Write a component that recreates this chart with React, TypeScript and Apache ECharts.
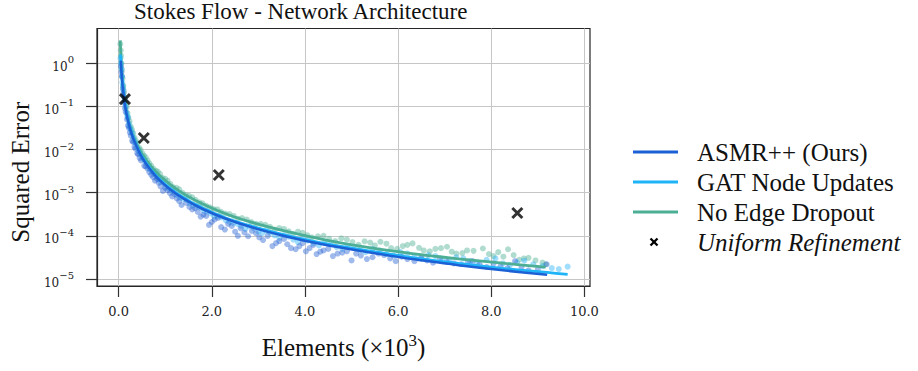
import React, { useEffect, useRef } from "react";
import * as echarts from "echarts";

// ---- text ----
const TITLE = "Stokes Flow - Network Architecture";
const Y_NAME = "Squared Error";
const MODELS = ["ASMR++ (Ours)", "GAT Node Updates", "No Edge Dropout"];
const BASELINE = "Uniform Refinement";
const COLORS = ["#1b60d4", "#1fb4f8", "#4caf95"];
const DOT_COLORS = ["rgba(38,98,212,0.55)", "rgba(40,178,248,0.55)", "rgba(76,176,148,0.55)"];

// ---- axes (x in thousands of elements) ----
const X_MIN = -0.465;
const X_MAX = 10.12;
const Y_MIN = 6.9e-6;
const Y_MAX = 6.4;
const X_TICKS = [0, 2, 4, 6, 8, 10];
const Y_TICKS = [1e-5, 1e-4, 1e-3, 1e-2, 1e-1, 1];

// ---- fitted error curves ----
const asmrCurveX = [0.045, 0.07, 0.1, 0.14, 0.2, 0.28, 0.38, 0.5, 0.65, 0.85, 1.1, 1.4, 1.8, 2.3, 2.9, 3.6, 4.4, 5.3, 6.3, 7.3, 8.3, 9.2];
const asmrCurveY = [1.15, 0.45, 0.21, 0.1, 0.047, 0.023, 0.0122, 0.0066, 0.0038, 0.0021, 0.00121, 0.00072, 0.00042, 0.00025, 0.000153, 9.7e-5, 6.3e-5, 4.3e-5, 2.9e-5, 2.1e-5, 1.57e-5, 1.26e-5];

const gatCurveX = [0.04, 0.06, 0.09, 0.13, 0.19, 0.27, 0.37, 0.5, 0.65, 0.85, 1.1, 1.4, 1.8, 2.3, 2.9, 3.6, 4.4, 5.3, 6.3, 7.3, 8.3, 9.2, 9.64];
const gatCurveY = [1.6, 0.7, 0.3, 0.125, 0.055, 0.026, 0.0135, 0.0069, 0.004, 0.0022, 0.00127, 0.00076, 0.00044, 0.00026, 0.000162, 0.000103, 6.7e-5, 4.6e-5, 3.15e-5, 2.3e-5, 1.75e-5, 1.42e-5, 1.28e-5];

const noDropCurveX = [0.034, 0.05, 0.075, 0.11, 0.16, 0.22, 0.3, 0.4, 0.52, 0.68, 0.88, 1.15, 1.45, 1.85, 2.35, 2.95, 3.65, 4.45, 5.35, 6.3, 7.3, 8.3, 9.17];
const noDropCurveY = [3.4, 1.3, 0.5, 0.2, 0.085, 0.042, 0.022, 0.0125, 0.0074, 0.0043, 0.0025, 0.00143, 0.00087, 0.00052, 0.00031, 0.000193, 0.000124, 8.0e-5, 5.4e-5, 3.9e-5, 2.95e-5, 2.3e-5, 1.88e-5];

// ---- individual runs: [elements (×10^3), squared error] ----
const asmrRuns = [
  [0.05, 0.85], [0.06, 0.62], [0.07, 0.5], [0.09, 0.26], [0.1, 0.2], [0.12, 0.12], [0.135, 0.09], [0.15, 0.075],
  [0.18, 0.05], [0.2, 0.036], [0.22, 0.032], [0.24, 0.025], [0.26, 0.021], [0.29, 0.016], [0.31, 0.015], [0.34, 0.0115],
  [0.36, 0.0105], [0.4, 0.0082], [0.42, 0.0078], [0.45, 0.0064], [0.48, 0.0056], [0.55, 0.0042], [0.58, 0.0041],
  [0.62, 0.0036], [0.66, 0.003], [0.7, 0.0026], [0.74, 0.0023], [0.78, 0.0019], [0.82, 0.0021], [0.86, 0.0017],
  [0.9, 0.0014], [0.95, 0.0011], [1.0, 0.0013], [1.05, 0.00115], [1.1, 0.00098], [1.15, 0.00082], [1.2, 0.00093],
  [1.25, 0.00074], [1.3, 0.00064], [1.35, 0.00052], [1.45, 0.00058], [1.52, 0.00047], [1.58, 0.00041], [1.64, 0.00044],
  [1.7, 0.00036], [1.76, 0.00028], [1.82, 0.00031], [1.88, 0.00029], [1.94, 0.00018], [2.0, 0.00021], [2.06, 0.00024],
  [2.13, 0.00026], [2.2, 0.00016], [2.28, 0.00014], [2.35, 0.00019], [2.43, 0.00017], [2.5, 0.000125], [2.56, 0.0001],
  [2.62, 0.00015], [2.7, 0.00012], [2.78, 9.8e-5], [2.86, 0.00013], [2.95, 0.000115], [3.02, 9.2e-5], [3.1, 8.0e-5],
  [3.2, 0.0001], [3.3, 5.8e-5], [3.38, 6.8e-5], [3.45, 7.6e-5], [3.55, 8.5e-5], [3.62, 6.4e-5], [3.7, 5.2e-5],
  [3.8, 4.9e-5], [3.88, 5.8e-5], [3.95, 6.8e-5], [4.02, 4.4e-5], [4.1, 5.2e-5], [4.18, 6.2e-5], [4.25, 3.8e-5],
  [4.33, 4.3e-5], [4.4, 4.6e-5], [4.5, 5.0e-5], [4.6, 3.4e-5], [4.7, 3.9e-5], [4.8, 4.1e-5], [4.9, 4.4e-5],
  [5.0, 2.7e-5], [5.1, 3.9e-5], [5.2, 3.5e-5], [5.33, 2.9e-5], [5.45, 3.2e-5], [5.58, 3.9e-5], [5.7, 3.6e-5],
  [5.83, 3.0e-5], [5.95, 2.6e-5], [6.08, 3.3e-5], [6.2, 2.9e-5], [6.35, 2.6e-5], [6.5, 3.3e-5], [6.62, 2.7e-5],
  [6.75, 2.4e-5], [6.9, 3.0e-5], [7.05, 2.5e-5], [7.2, 2.3e-5], [7.35, 2.2e-5], [7.5, 2.5e-5], [7.6, 2.6e-5],
  [7.75, 2.2e-5], [7.9, 1.9e-5], [8.05, 2.3e-5], [8.2, 2.0e-5], [8.35, 1.8e-5], [8.51, 2.6e-5], [8.65, 1.9e-5],
  [8.8, 1.6e-5], [9.0, 1.7e-5], [9.19, 2.2e-5],
];

const gatRuns = [
  [0.04, 1.3], [0.05, 1.0], [0.06, 0.75], [0.07, 0.5], [0.08, 0.36], [0.09, 0.3], [0.1, 0.24], [0.115, 0.17],
  [0.13, 0.14], [0.15, 0.1], [0.17, 0.07], [0.185, 0.06], [0.2, 0.055], [0.22, 0.04], [0.24, 0.033], [0.265, 0.028],
  [0.29, 0.024], [0.315, 0.019], [0.34, 0.0155], [0.37, 0.0135], [0.4, 0.011], [0.43, 0.0094], [0.46, 0.0082],
  [0.5, 0.0068], [0.53, 0.006], [0.565, 0.0055], [0.6, 0.0047], [0.64, 0.004], [0.68, 0.0035], [0.72, 0.0031],
  [0.76, 0.0028], [0.8, 0.0025], [0.85, 0.0021], [0.9, 0.0018], [0.96, 0.0017], [1.02, 0.0014], [1.08, 0.00125],
  [1.14, 0.0011], [1.2, 0.00105], [1.26, 0.00088], [1.32, 0.00078], [1.39, 0.00072], [1.46, 0.00068], [1.53, 0.00056],
  [1.6, 0.00052], [1.68, 0.00049], [1.75, 0.00045], [1.83, 0.00038], [1.9, 0.00037], [1.98, 0.00033], [2.05, 0.00028],
  [2.12, 0.00029], [2.2, 0.00027], [2.3, 0.00023], [2.38, 0.00021], [2.46, 0.0002], [2.55, 0.00019], [2.63, 0.00017],
  [2.72, 0.000145], [2.8, 0.000165], [2.9, 0.00015], [3.0, 0.000125], [3.08, 0.000115], [3.17, 0.000132],
  [3.25, 0.000118], [3.35, 0.000102], [3.45, 9.0e-5], [3.55, 0.000105], [3.65, 9.6e-5], [3.75, 8.2e-5], [3.85, 7.2e-5],
  [3.95, 8.6e-5], [4.05, 7.8e-5], [4.18, 6.8e-5], [4.3, 6.0e-5], [4.42, 6.9e-5], [4.55, 6.4e-5], [4.68, 5.5e-5],
  [4.8, 5.0e-5], [4.92, 5.8e-5], [5.05, 5.3e-5], [5.18, 4.7e-5], [5.3, 4.2e-5], [5.45, 5.0e-5], [5.6, 4.6e-5],
  [5.75, 3.8e-5], [5.9, 3.5e-5], [6.05, 4.2e-5], [6.2, 3.9e-5], [6.35, 3.3e-5], [6.5, 3.0e-5], [6.65, 3.6e-5],
  [6.8, 3.4e-5], [6.95, 2.9e-5], [7.1, 2.7e-5], [7.25, 3.2e-5], [7.4, 3.0e-5], [7.55, 2.6e-5], [7.7, 2.4e-5],
  [7.9, 2.8e-5], [8.09, 3.0e-5], [8.25, 2.3e-5], [8.4, 2.1e-5], [8.55, 2.4e-5], [8.71, 2.66e-5], [8.9, 2.2e-5],
  [9.1, 2.0e-5], [9.3, 1.8e-5], [9.45, 1.7e-5], [9.64, 1.94e-5],
];

const noDropRuns = [
  [0.035, 2.8], [0.045, 2.0], [0.05, 1.5], [0.06, 1.0], [0.07, 0.7], [0.085, 0.45], [0.1, 0.3], [0.115, 0.22],
  [0.13, 0.16], [0.15, 0.12], [0.17, 0.095], [0.19, 0.07], [0.21, 0.055], [0.235, 0.045], [0.26, 0.034],
  [0.285, 0.029], [0.31, 0.024], [0.34, 0.019], [0.37, 0.016], [0.4, 0.014], [0.44, 0.011], [0.47, 0.0098],
  [0.51, 0.0082], [0.545, 0.0072], [0.58, 0.0066], [0.62, 0.0056], [0.66, 0.0048], [0.7, 0.0042], [0.75, 0.0036],
  [0.8, 0.0032], [0.84, 0.0031], [0.89, 0.0027], [0.94, 0.0022], [1.0, 0.0021], [1.05, 0.0019], [1.11, 0.0016],
  [1.17, 0.00135], [1.24, 0.0013], [1.3, 0.0012], [1.37, 0.001], [1.44, 0.00088], [1.51, 0.00085], [1.58, 0.00078],
  [1.65, 0.00068], [1.73, 0.0006], [1.8, 0.00057], [1.88, 0.0005], [1.96, 0.00046], [2.04, 0.00042], [2.12, 0.00041],
  [2.2, 0.00036], [2.29, 0.00033], [2.38, 0.00032], [2.47, 0.00029], [2.56, 0.00025], [2.65, 0.00026], [2.75, 0.00024],
  [2.85, 0.00021], [2.95, 0.00019], [3.05, 0.00019], [3.15, 0.00018], [3.25, 0.000162], [3.35, 0.00014],
  [3.45, 0.000152], [3.55, 0.000145], [3.65, 0.000128], [3.75, 0.000112], [3.85, 0.000125], [3.95, 0.000118],
  [4.05, 0.000104], [4.15, 9.2e-5], [4.28, 9.8e-5], [4.4, 0.0001], [4.52, 8.6e-5], [4.65, 7.6e-5], [4.78, 8.8e-5],
  [4.9, 8.2e-5], [5.02, 7.2e-5], [5.15, 6.2e-5], [5.28, 7.5e-5], [5.4, 7.0e-5], [5.5, 6.0e-5], [5.62, 7.3e-5],
  [5.75, 6.6e-5], [5.85, 5.2e-5], [5.98, 5.0e-5], [6.1, 5.8e-5], [6.2, 6.2e-5], [6.31, 6.7e-5], [6.45, 5.3e-5],
  [6.55, 4.6e-5], [6.68, 4.4e-5], [6.8, 5.0e-5], [6.92, 5.2e-5], [7.05, 5.6e-5], [7.15, 4.3e-5], [7.25, 3.9e-5],
  [7.38, 4.0e-5], [7.48, 4.6e-5], [7.62, 4.5e-5], [7.82, 5.1e-5], [7.95, 3.8e-5], [8.05, 3.4e-5], [8.15, 4.2e-5],
  [8.26, 3.3e-5], [8.36, 4.9e-5], [8.48, 3.6e-5], [8.6, 2.8e-5], [8.7, 3.0e-5], [8.8, 3.1e-5], [8.95, 2.7e-5],
  [9.1, 2.4e-5], [9.17, 2.2e-5],
];

// ---- uniform refinement baseline ----
const uniformX = [0.135, 0.54, 2.15, 8.56];
const uniformY = [0.148, 0.0185, 0.00258, 3.4e-4];

const SERIF = "'Liberation Serif', 'Times New Roman', serif";
const TICK_FONT = "'DejaVu Serif', serif";
const CROSS = "path://M0,0L10,10M10,0L0,10";

const zip = (xs: number[], ys: number[]) => xs.map((x, i) => [x, ys[i]]);

const curves = [
  zip(asmrCurveX, asmrCurveY),
  zip(gatCurveX, gatCurveY),
  zip(noDropCurveX, noDropCurveY),
];
const runs = [asmrRuns, gatRuns, noDropRuns];

function buildOption(): echarts.EChartsOption {
  const scatterSeries = [2, 1, 0].map((i) => ({
    type: "scatter" as const,
    name: MODELS[i],
    data: runs[i],
    symbol: "circle",
    symbolSize: 6,
    itemStyle: { color: DOT_COLORS[i] },
    z: 2,
  }));
  const lineSeries = [2, 1, 0].map((i) => ({
    type: "line" as const,
    name: MODELS[i],
    data: curves[i],
    showSymbol: false,
    symbol: "none",
    smooth: 0.3,
    lineStyle: { color: COLORS[i], width: i === 0 ? 2.5 : 2.8 },
    z: 3 + (2 - i),
  }));

  const legendTop = 152;
  const legendGap = 30;
  const legendGraphics: any[] = [];
  MODELS.forEach((m, i) => {
    const y = legendTop + legendGap * i;
    legendGraphics.push({
      type: "line",
      shape: { x1: 633, y1: y, x2: 678, y2: y },
      style: { stroke: COLORS[i], lineWidth: 3 },
    });
    legendGraphics.push({
      type: "text",
      x: 697,
      y,
      style: { text: m, font: `25px ${SERIF}`, fill: "#111", verticalAlign: "middle", align: "left" },
    });
  });
  const yb = legendTop + legendGap * 3;
  legendGraphics.push(
    { type: "line", shape: { x1: 650.5, y1: yb - 3.5, x2: 657.5, y2: yb + 3.5 }, style: { stroke: "#000", lineWidth: 2.3 } },
    { type: "line", shape: { x1: 657.5, y1: yb - 3.5, x2: 650.5, y2: yb + 3.5 }, style: { stroke: "#000", lineWidth: 2.3 } },
    {
      type: "text",
      x: 697,
      y: yb,
      style: { text: BASELINE, font: `italic 25px ${SERIF}`, fill: "#111", verticalAlign: "middle", align: "left" },
    }
  );

  return {
    animation: false,
    backgroundColor: "#fff",
    title: {
      text: TITLE,
      left: 134,
      top: 0,
      padding: 0,
      textStyle: { fontFamily: SERIF, fontSize: 23, fontWeight: "normal", color: "#111" },
    },
    grid: {
      left: 96.7,
      right: 328,
      top: 28.5,
      bottom: 85,
      show: true,
      borderColor: "#262626",
      borderWidth: 1.2,
      backgroundColor: "transparent",
    },
    xAxis: {
      type: "value",
      min: X_MIN,
      max: X_MAX,
      name: "{a|Elements (×10}{s|3}{a|)}",
      nameLocation: "middle",
      nameGap: 46,
      nameTextStyle: {
        rich: {
          a: { fontFamily: SERIF, fontSize: 25, color: "#111" },
          s: { fontFamily: SERIF, fontSize: 17, color: "#111", padding: [0, 0, 14, 0] },
        },
      },
      axisLine: { show: true, onZero: false, lineStyle: { color: "#262626", width: 1.2 } },
      axisTick: { show: true, length: 11, customValues: X_TICKS, lineStyle: { color: "#333", width: 1.2 } },
      axisLabel: {
        customValues: X_TICKS,
        margin: 19,
        fontFamily: TICK_FONT,
        fontSize: 13,
        color: "#222",
        formatter: (v: number) => v.toFixed(1),
      },
      splitLine: { show: true, lineStyle: { color: "#c6c6c6", width: 1 } },
    },
    yAxis: {
      type: "log",
      logBase: 10,
      min: Y_MIN,
      max: Y_MAX,
      name: Y_NAME,
      nameLocation: "middle",
      nameGap: 64,
      nameTextStyle: { fontFamily: SERIF, fontSize: 25, color: "#111", padding: [0, 30, 0, 0] },
      axisLine: { show: true, onZero: false, lineStyle: { color: "#262626", width: 1.2 } },
      axisTick: { show: true, length: 11, customValues: Y_TICKS, lineStyle: { color: "#333", width: 1.2 } },
      axisLabel: {
        customValues: Y_TICKS,
        margin: 23,
        formatter: (v: number) => {
          const e = Math.round(Math.log10(v));
          return `{b|10}{s|${e < 0 ? "\u2212" + -e : e}}`;
        },
        rich: {
          b: { fontFamily: TICK_FONT, fontSize: 12, color: "#222", padding: [7, 0, 0, 0] },
          s: { fontFamily: TICK_FONT, fontSize: 10, color: "#222", padding: [0, 0, 7, 0] },
        },
      },
      splitLine: { show: true, lineStyle: { color: "#c6c6c6", width: 1 } },
    },
    series: [
      ...scatterSeries,
      ...lineSeries,
      {
        type: "scatter",
        name: BASELINE,
        data: zip(uniformX, uniformY),
        symbol: CROSS,
        symbolSize: 10,
        itemStyle: { color: "#000", borderColor: "#000", borderWidth: 3 },
        z: 10,
      },
    ],
    graphic: legendGraphics,
  } as echarts.EChartsOption;
}

export default function App() {
  const ref = useRef<HTMLDivElement>(null);
  useEffect(() => {
    if (!ref.current) return;
    const chart = echarts.init(ref.current, undefined, { renderer: "svg" });
    chart.setOption(buildOption());
    return () => chart.dispose();
  }, []);
  return (
    <div
      ref={ref}
      style={{ position: "fixed", left: 0, top: 0, width: 918, height: 371, background: "#fff" }}
    />
  );
}
